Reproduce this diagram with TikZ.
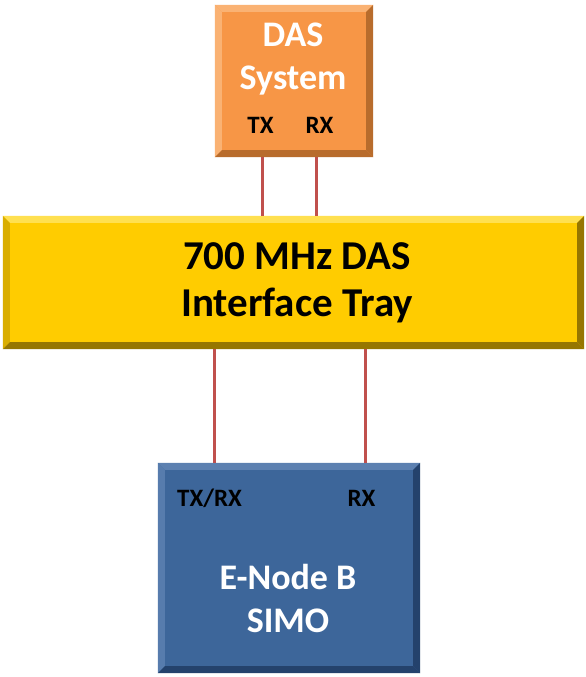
\documentclass[tikz,border=0pt]{standalone}
\usepackage{fontspec}
\setmainfont{Carlito}
\usepackage{xcolor}
\usetikzlibrary{positioning,calc}
\definecolor{dasorange}{RGB}{247,150,70}
\definecolor{daslight}{RGB}{250,178,115}
\definecolor{dasdark}{RGB}{184,108,44}
\definecolor{trayyellow}{RGB}{255,204,0}
\definecolor{traylight}{RGB}{255,224,80}
\definecolor{traydark}{RGB}{150,118,0}
\definecolor{enbblue}{RGB}{61,102,154}
\definecolor{enblight}{RGB}{92,128,176}
\definecolor{enbdark}{RGB}{36,66,108}
\definecolor{wirered}{RGB}{192,80,77}
% bevelled edge: node, top, left, bottom, right
\newcommand{\bevelbox}[5]{%
  \fill[#2] (#1.north west) -- (#1.north east) -- ([shift={(-7pt,-7pt)}]#1.north east) -- ([shift={(7pt,-7pt)}]#1.north west) -- cycle;
  \fill[#3] (#1.north west) -- (#1.south west) -- ([shift={(7pt,7pt)}]#1.south west) -- ([shift={(7pt,-7pt)}]#1.north west) -- cycle;
  \fill[#4] (#1.south west) -- (#1.south east) -- ([shift={(-7pt,7pt)}]#1.south east) -- ([shift={(7pt,7pt)}]#1.south west) -- cycle;
  \fill[#5] (#1.north east) -- (#1.south east) -- ([shift={(-7pt,7pt)}]#1.south east) -- ([shift={(-7pt,-7pt)}]#1.north east) -- cycle;
}
\tikzset{
  block/.style={
    rectangle,
    inner sep=0pt,
    align=center
  },
  dasbox/.style={block,fill=dasorange,minimum width=158pt,minimum height=152pt},
  traybox/.style={block,fill=trayyellow,minimum width=581pt,minimum height=133pt},
  enbbox/.style={block,fill=enbblue,minimum width=262pt,minimum height=210pt},
  titletext/.style={align=center,inner sep=0pt,text=white,
    font=\bfseries\fontsize{36}{43}\selectfont},
  traytext/.style={align=center,inner sep=0pt,text=black,
    font=\bfseries\fontsize{41}{47}\selectfont},
  portlabel/.style={inner sep=0pt,text=black,font=\bfseries\fontsize{25}{25}\selectfont},
  wire/.style={draw=wirered,line width=3pt}
}
\begin{document}
\begin{tikzpicture}[x=1pt,y=-1pt]
  \useasboundingbox (0,0) rectangle (586,677);
  \fill[white] (0,0) rectangle (586,677);
  % blocks
  \node[dasbox] (das) at (294,81) {};
  \bevelbox{das}{daslight}{daslight}{dasdark}{dasdark}
  \node[titletext] (dastitle) at (293,59) {DAS\\System};
  \node[portlabel] (dastx) at (260.5,125) {TX};
  \node[portlabel] (dasrx) at (319.5,125) {RX};
  \node[traybox] (tray) at (293.5,282.5) {};
  \bevelbox{tray}{traylight}{trayyellow!85!black}{traydark}{traydark}
  \node[traytext] (traytitle) at (297,283) {700 MHz DAS\\Interface Tray};
  \node[enbbox] (enb) at (289,568) {};
  \bevelbox{enb}{enblight}{enblight!85!enbblue}{enbdark}{enbdark}
  \node[titletext] (enbtitle) at (288,598) {E-Node B\\SIMO};
  \node[portlabel] (enbtxrx) at (209.5,498) {TX/RX};
  \node[portlabel] (enbrx) at (361.5,498) {RX};
  % connections
  \draw[wire] ([xshift=1.5pt]dastx.south |- das.south) -- ([xshift=1.5pt]dastx.south |- tray.north);
  \draw[wire] ([xshift=-3.5pt]dasrx.south |- das.south) -- ([xshift=-3.5pt]dasrx.south |- tray.north);
  \draw[wire] ([xshift=4.5pt]enbtxrx.south |- tray.south) -- ([xshift=4.5pt]enbtxrx.south |- enb.north);
  \draw[wire] ([xshift=3.5pt]enbrx.south |- tray.south) -- ([xshift=3.5pt]enbrx.south |- enb.north);
\end{tikzpicture}
\end{document}
